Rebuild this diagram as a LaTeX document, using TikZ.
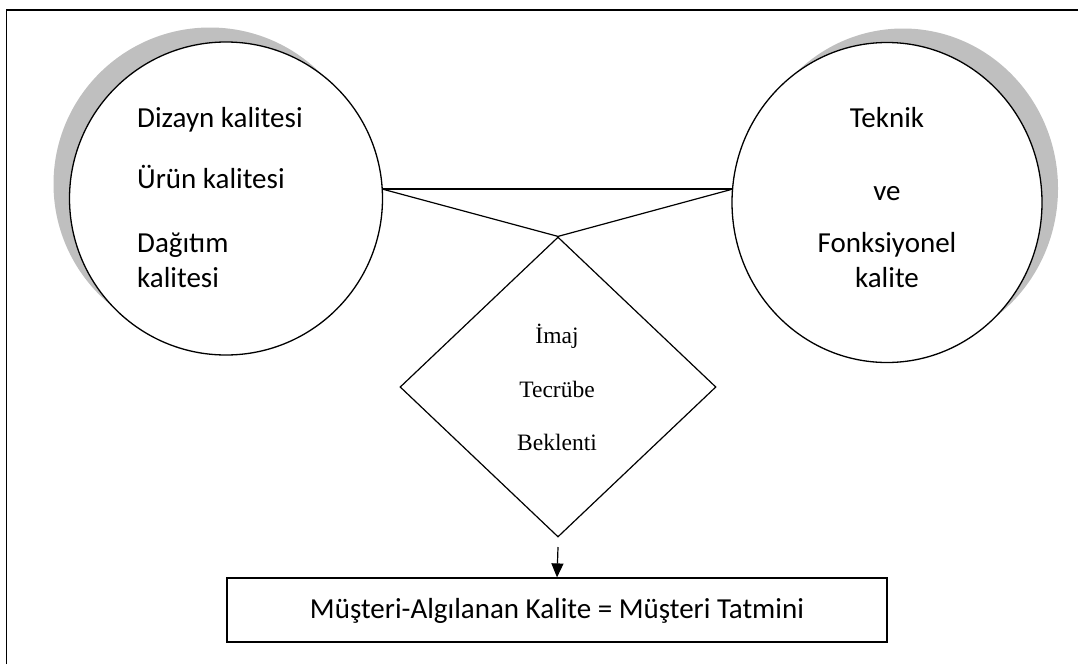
\documentclass[tikz,border=0pt]{standalone}
\usepackage{fontspec}
\setmainfont{Carlito}
\newfontfamily\timesfont{Liberation Serif}
\usetikzlibrary{shapes.geometric,arrows.meta}

\begin{document}
\begin{tikzpicture}[x=1pt,y=-1pt,
  shade/.style={fill=black!25,draw=none},
  bubble/.style={draw,fill=white,line width=1.3pt,inner sep=0pt},
  body/.style={font=\fontsize{29}{35}\selectfont,inner sep=0pt,anchor=base},
  serif/.style={font=\timesfont\fontsize{23.5}{28}\selectfont,inner sep=0pt,anchor=base},
  link/.style={line width=1.2pt},
  flow/.style={line width=1.2pt,-{Triangle[width=12pt,length=14pt]}}]

\useasboundingbox (0,0) rectangle (1078,664);

% page frame (top and left rules)
\draw[line width=1.6pt] (6.5,664) -- (6.5,10) -- (1078,10);

% left bubble with its shadow
\fill[shade] (210,184) circle[radius=156.5];
\node[bubble,circle,minimum size=313pt] (lc) at (226,198.5) {};

% right bubble with its shadow
\fill[shade] (903,188.5) ellipse[x radius=155, y radius=160];
\node[bubble,ellipse,minimum width=310pt,minimum height=320pt] (rc) at (887,202.5) {};

% texts in the left bubble
\node[body,anchor=base west] (t1) at (137,127) {Dizayn kalitesi};
\node[body,anchor=base west] (t2) at (137,188) {Ürün kalitesi};
\node[body,anchor=base west] (t3) at (137,252) {Dağıtım};
\node[body,anchor=base west] (t4) at (137,287) {kalitesi};

% texts in the right bubble
\node[body] (r1) at (887,127) {Teknik};
\node[body] (r2) at (887,200) {ve};
\node[body] (r3) at (887,252) {Fonksiyonel};
\node[body] (r4) at (887,287) {kalite};

% diamond
\node[draw,diamond,line width=1.2pt,minimum width=316pt,minimum height=300pt,inner sep=0pt] (dm) at (558,387) {};
\node[serif] (d1) at (557,343) {İmaj};
\node[serif] (d2) at (557,397) {Tecrübe};
\node[serif] (d3) at (557,450) {Beklenti};

% wedge joining the bubbles to the diamond
\coordinate (la) at (382,189);
\coordinate (ra) at (733,189);
\draw[link] (la) -- (ra);
\draw[link] (la) -- (dm.north) -- (ra);

% result box
\node[draw,line width=1.2pt,minimum width=660pt,minimum height=64pt,inner sep=0pt] (bx) at (557,610) {};
\node[body] (bt) at (557,618) {Müşteri-Algılanan Kalite = Müşteri Tatmini};

\coordinate (ast) at (558,547);
\draw[flow] (ast) -- (bx.north);
\end{tikzpicture}
\end{document}
